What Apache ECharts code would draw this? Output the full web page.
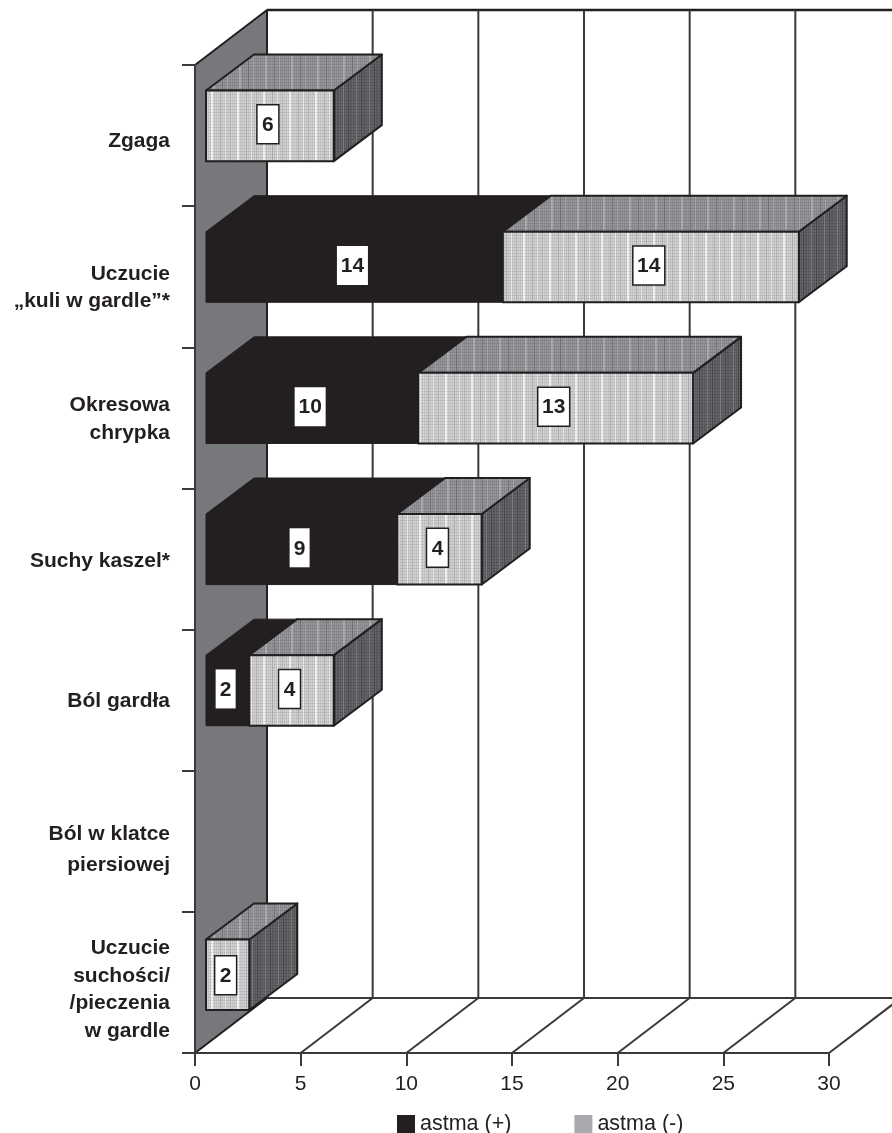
<!DOCTYPE html>
<html>
<head>
<meta charset="utf-8">
<style>html,body{margin:0;padding:0;background:#fff}#c{width:892px;height:1133px}</style>
<script src="https://cdn.jsdelivr.net/npm/echarts@6/dist/echarts.min.js"></script>
</head>
<body>
<div id="c"></div>
<script>
// ---- data ----
var categories = ['Zgaga', 'Uczucie\n„kuli w gardle”*', 'Okresowa\nchrypka', 'Suchy kaszel*', 'Ból gardła', 'Ból w klatce\npiersiowej', 'Uczucie\nsuchości/\n/pieczenia\nw gardle'];
var astmaPlus  = [0, 14, 10, 9, 2, 0, 0];
var astmaMinus = [6, 14, 13, 4, 4, 0, 2];
var xTicks = [0, 5, 10, 15, 20, 25, 30];
var seriesNames = ['astma (+)', 'astma (-)'];

// ---- styling ----
var INK = '#231f20';
var FONT = '"Liberation Sans", Arial, sans-serif';
var labelShift = [5.5, 11, 1.5, 2.5, 1, 8.5, 7.5];
var labelLine = [24, 27, 28, 24, 24, 31, 27.5];
var barNudge = [0, 0, 0, 0, 0, 0, 2];
var boxNudge = [0, 0, 0, 0, 0, 0, 2];
var WALL_DX = 72, WALL_DY = 55;
var BAR_DX = 48, BAR_DY = 36, BAR_OX = 12;

function tile(base, w, stripes, hLine) {
  var c = document.createElement('canvas');
  c.width = w; c.height = 3;
  var g = c.getContext('2d');
  g.fillStyle = base; g.fillRect(0, 0, w, 3);
  stripes.forEach(function (s) { g.fillStyle = s[1]; g.fillRect(s[0], 0, 1, 3); });
  g.fillStyle = hLine; g.fillRect(0, 1, w, 1);
  return c;
}
function stripesOf(w, even, odd, accents) {
  var out = [];
  for (var i = 0; i < w; i += 2) { out.push([i, even]); out.push([i + 1, odd]); }
  accents.forEach(function (a) { out.push(a); });
  return out;
}
var frontFill = { image: tile('#cacacc', 26, stripesOf(26, '#c3c3c5', '#d3d3d5', [[3, '#f3f3f4'], [4, '#f3f3f4'], [12, '#adadaf'], [17, '#eeeeef'], [22, '#b4b4b6']]), 'rgba(120,120,124,0.16)'), repeat: 'repeat' };
var topFill = { image: tile('#8f9093', 26, stripesOf(26, '#898a8d', '#96979a', [[5, '#afb0b2'], [6, '#a8a9ab'], [14, '#747578'], [19, '#a8a9ab']]), 'rgba(60,60,64,0.12)'), repeat: 'repeat' };
var sideFill = { image: tile('#5f6063', 13, stripesOf(13, '#595a5d', '#66676a', [[5, '#808184'], [10, '#48494c']]), 'rgba(30,30,34,0.14)'), repeat: 'repeat' };

function renderFrame(params, api) {
  var v = api.value(0);
  var base = api.coord([v, 0]);
  var cs = params.coordSys;
  var bottom = cs.y + cs.height, top = cs.y;
  var kids = [];
  var line = { stroke: '#3a3a3c', lineWidth: 2, fill: null };
  if (v === 0) {
    kids.push({ type: 'polygon', shape: { points: [[base[0], top], [base[0] + WALL_DX, top - WALL_DY], [base[0] + WALL_DX, bottom - WALL_DY], [base[0], bottom]] },
      style: { fill: '#77787b', stroke: INK, lineWidth: 2, lineJoin: 'round' } });
    kids.push({ type: 'line', shape: { x1: base[0] + WALL_DX, y1: top - WALL_DY, x2: 900, y2: top - WALL_DY }, style: { stroke: INK, lineWidth: 2.5 } });
    kids.push({ type: 'line', shape: { x1: base[0] + WALL_DX, y1: bottom - WALL_DY, x2: 900, y2: bottom - WALL_DY }, style: line });
  } else {
    kids.push({ type: 'line', shape: { x1: base[0] + WALL_DX, y1: top - WALL_DY, x2: base[0] + WALL_DX, y2: bottom - WALL_DY }, style: line });
    kids.push({ type: 'line', shape: { x1: base[0], y1: bottom, x2: base[0] + WALL_DX, y2: bottom - WALL_DY }, style: line });
  }
  return { type: 'group', children: kids };
}

function renderCategoryLabel(params, api) {
  var i = api.value(0);
  var p = api.coord([0, i]);
  return { type: 'text', style: {
    text: categories[i], x: p[0] - 25, y: p[1] + labelShift[i], align: 'right', verticalAlign: 'middle',
    font: 'bold 21px ' + FONT, lineHeight: labelLine[i], fill: INK } };
}

function renderBar(dark) {
  return function (params, api) {
    var val = api.value(1), start = api.value(2), idx = api.value(0);
    if (!val) return null;
    var a = api.coord([start, idx]), b = api.coord([start + val, idx]);
    var h = api.size([0, 1])[1] * 0.5;
    var x0 = a[0] + BAR_OX - (start === 0 ? 1 : 0), x1 = b[0] + BAR_OX;
    var y0 = a[1] - 45 + barNudge[idx], y1 = y0 + h;
    var edge = dark ? { stroke: INK, lineWidth: 1, lineJoin: 'round' } : { stroke: INK, lineWidth: 2, lineJoin: 'round' };
    var kids = [
      { type: 'polygon', shape: { points: [[x1, y0], [x1 + BAR_DX, y0 - BAR_DY], [x1 + BAR_DX, y1 - BAR_DY], [x1, y1]] },
        style: Object.assign({ fill: dark ? INK : sideFill }, edge) },
      { type: 'polygon', shape: { points: [[x0, y0], [x0 + BAR_DX, y0 - BAR_DY], [x1 + BAR_DX, y0 - BAR_DY], [x1, y0]] },
        style: Object.assign({ fill: dark ? INK : topFill }, edge) },
      { type: 'rect', shape: { x: x0, y: y0, width: x1 - x0, height: h },
        style: Object.assign({ fill: dark ? INK : frontFill }, edge) }
    ];
    var text = String(val);
    var bw = text.length > 1 ? (dark ? 31 : 32) : (dark ? 20 : 22);
    var cx = (x0 + x1) / 2 - 2, cy = y0 + h / 2 - 1.5 + boxNudge[idx];
    kids.push({ type: 'rect', shape: { x: cx - bw / 2, y: cy - 19.5, width: bw, height: 39 },
      style: { fill: '#fff', stroke: dark ? null : INK, lineWidth: 1.5 } });
    kids.push({ type: 'text', style: { text: text, x: cx, y: cy + 1, align: 'center', verticalAlign: 'middle', font: 'bold 21px ' + FONT, fill: INK } });
    return { type: 'group', children: kids };
  };
}

var chart = echarts.init(document.getElementById('c'), null, { renderer: 'canvas' });
chart.setOption({
  animation: false,
  backgroundColor: '#fff',
  color: [INK, '#a7a9ac'],
  legend: {
    data: seriesNames,
    left: 397, top: 1113, padding: 0,
    icon: 'rect', itemWidth: 18, itemHeight: 18, itemGap: 63,
    selectedMode: false,
    textStyle: { fontFamily: FONT, fontSize: 21.5, color: INK }
  },
  grid: { left: 195, right: 63, top: 65, bottom: 80 },
  xAxis: {
    type: 'value', min: 0, max: 30, interval: 5, position: 'bottom', z: 10,
    splitLine: { show: false },
    axisLine: { show: true, lineStyle: { color: '#3a3a3c', width: 2 } },
    axisTick: { show: true, length: 13, lineStyle: { color: '#3a3a3c', width: 2 } },
    axisLabel: { margin: 21, color: INK, fontFamily: FONT, fontSize: 21, formatter: function (v) { return xTicks.indexOf(v) >= 0 ? String(v) : ''; } }
  },
  yAxis: {
    type: 'category', inverse: true, z: 10,
    data: categories,
    axisLine: { show: true, onZero: false, lineStyle: { color: '#3a3a3c', width: 2 } },
    axisTick: { show: true, length: 13, lineStyle: { color: '#3a3a3c', width: 2 } },
    axisLabel: { show: false },
    splitLine: { show: false }
  },
  series: [
    { type: 'custom', name: 'frame', silent: true, clip: false, z: 1,
      encode: { x: 0, y: 1 }, data: xTicks.map(function (t) { return [t, 0]; }), renderItem: renderFrame },
    { type: 'custom', name: 'categoryLabels', silent: true, clip: false, z: 1,
      encode: { y: 0 }, data: categories.map(function (c, i) { return [i]; }), renderItem: renderCategoryLabel },
    { type: 'custom', name: seriesNames[0], clip: false, z: 2, itemStyle: { color: INK },
      encode: { x: 1, y: 0 }, data: astmaPlus.map(function (v, i) { return [i, v, 0]; }), renderItem: renderBar(true) },
    { type: 'custom', name: seriesNames[1], clip: false, z: 3, itemStyle: { color: '#a7a9ac' },
      encode: { x: 1, y: 0 }, data: astmaMinus.map(function (v, i) { return [i, v, astmaPlus[i]]; }), renderItem: renderBar(false) }
  ]
});
</script>
</body>
</html>
